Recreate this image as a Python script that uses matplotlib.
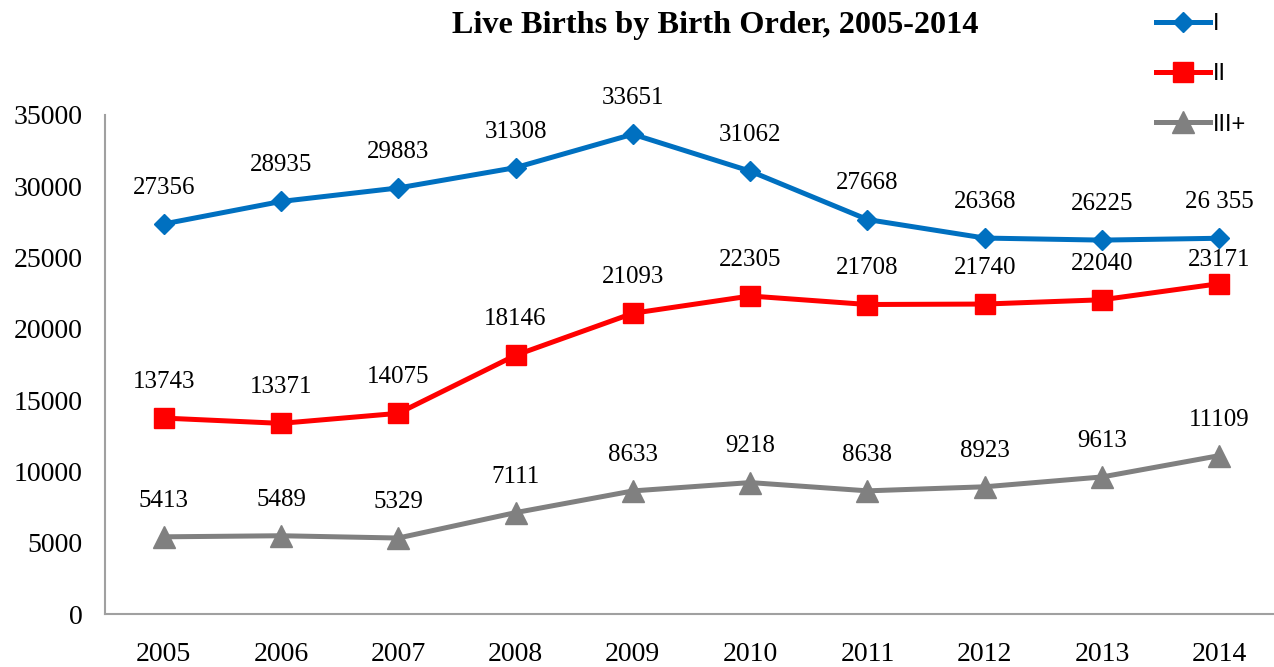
import matplotlib.pyplot as plt
import numpy as np

years = ['2005', '2006', '2007', '2008', '2009', '2010', '2011', '2012', '2013', '2014']
first = [27356, 28935, 29883, 31308, 33651, 31062, 27668, 26368, 26225, 26355]
second = [13743, 13371, 14075, 18146, 21093, 22305, 21708, 21740, 22040, 23171]
third = [5413, 5489, 5329, 7111, 8633, 9218, 8638, 8923, 9613, 11109]
first_labels = ['27356', '28935', '29883', '31308', '33651', '31062', '27668', '26368', '26225', '26 355']
series_names = ['I', 'II', 'III+']

serif = 'Liberation Serif'
sans = 'Liberation Sans'

fig = plt.figure(figsize=(12.74, 6.67), dpi=100)
ax = fig.add_axes([105/1274, 53/667, 1173/1274, 499/667])

x = np.arange(len(years))
blue, red, gray = '#0070C0', '#FF0000', '#808080'

ax.plot(x, first, color=blue, lw=3.6, marker='D', ms=10.5, label=series_names[0])
ax.plot(x, second, color=red, lw=3.6, marker='s', ms=15, label=series_names[1])
ax.plot(x, third, color=gray, lw=3.6, marker='^', ms=16, label=series_names[2])

# data labels
for i in range(len(years)):
    ax.annotate(first_labels[i], (x[i], first[i]), xytext=(0, 26), textcoords='offset points',
                ha='center', va='center', fontsize=18, family=serif)
    off = 17 if i == len(years) - 1 else 26
    ax.annotate(str(second[i]), (x[i], second[i]), xytext=(0, off), textcoords='offset points',
                ha='center', va='center', fontsize=18, family=serif)
    ax.annotate(str(third[i]), (x[i], third[i]), xytext=(0, 26), textcoords='offset points',
                ha='center', va='center', fontsize=18, family=serif)

ax.set_xlim(-0.5, 9.5)
ax.set_ylim(0, 35000)
ax.set_yticks(np.arange(0, 35001, 5000))
ax.set_xticks(x)
ax.set_xticklabels(years)
for lab in ax.get_xticklabels() + ax.get_yticklabels():
    lab.set_fontfamily(serif)
    lab.set_fontsize(20)
ax.tick_params(axis='both', length=0)
ax.tick_params(axis='y', pad=16)
ax.tick_params(axis='x', pad=20)

for s in ['top', 'right']:
    ax.spines[s].set_visible(False)
for s in ['left', 'bottom']:
    ax.spines[s].set_color('#A0A0A0')
    ax.spines[s].set_linewidth(1.5)

fig.text(715/1274, 1 - 26/667, 'Live Births by Birth Order, 2005-2014', ha='center', va='center',
         fontsize=23.2, fontweight='bold', family=serif)

leg = ax.legend(loc='upper left', bbox_to_anchor=(1156/1274, 1 - 13/667), bbox_transform=fig.transFigure,
                frameon=False, prop={'family': sans, 'size': 17}, handlelength=2.3,
                handletextpad=0.1, labelspacing=1.2, borderaxespad=0, borderpad=0)

fig.savefig('out.png', dpi=100)
